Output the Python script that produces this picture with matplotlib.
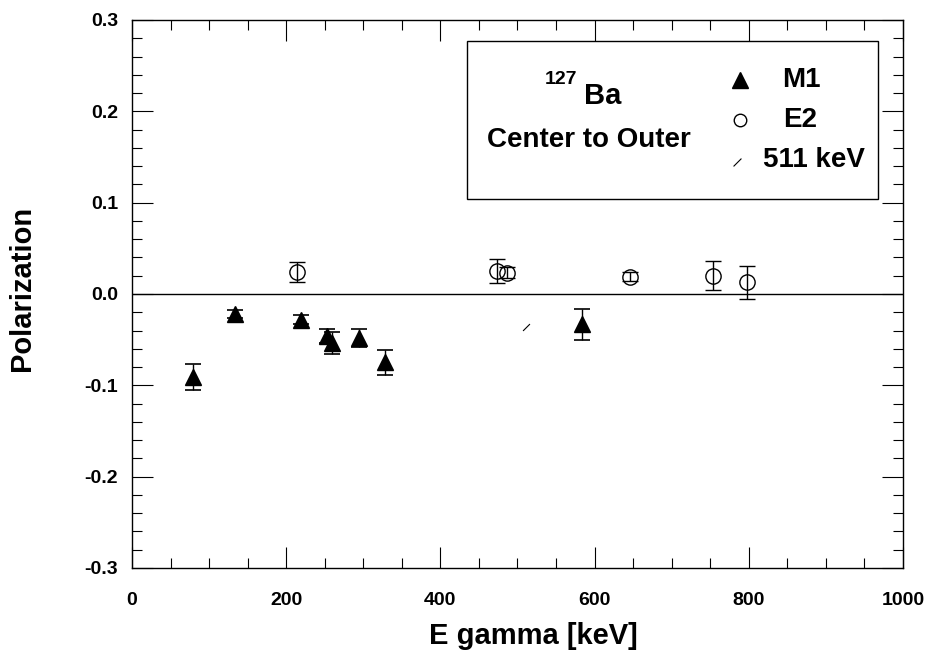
#!/usr/bin/env python3
"""Linear polarization of 127Ba gamma lines, center-to-outer detector ratio."""

import matplotlib.pyplot as plt
from matplotlib.ticker import MultipleLocator

plt.rcParams["font.family"] = ["Liberation Sans", "DejaVu Sans"]
plt.rcParams["font.weight"] = "bold"

# M1 transitions
m1_energy = [79, 133, 219, 253, 260, 295, 328, 584]
m1_pol = [-0.091, -0.022, -0.028, -0.046, -0.054, -0.048, -0.075, -0.033]
m1_err = [0.014, 0.004, 0.005, 0.008, 0.012, 0.010, 0.014, 0.017]

# E2 transitions
e2_energy = [214, 474, 486, 646, 753, 798]
e2_pol = [0.024, 0.025, 0.023, 0.019, 0.020, 0.013]
e2_err = [0.011, 0.013, 0.006, 0.005, 0.016, 0.018]

# annihilation line
ann_energy = [511]
ann_pol = [-0.036]

fig = plt.figure(figsize=(9.27, 6.57), dpi=100)
ax = fig.add_axes([0.1424, 0.1355, 0.8317, 0.8341])

ax.axhline(0.0, color="black", linewidth=1.0, zorder=1)

ax.errorbar(m1_energy, m1_pol, yerr=m1_err, fmt="^", color="black",
            markersize=12, capsize=5.5, elinewidth=1.0, capthick=1.2)
ax.errorbar(e2_energy, e2_pol, yerr=e2_err, fmt="o", color="black",
            markerfacecolor="none", markeredgewidth=1.0, markersize=11,
            capsize=5.5, elinewidth=1.0, capthick=1.2)
ax.plot(ann_energy, ann_pol, linestyle="none", marker=(2, 0, -45),
        color="black", markersize=7, markeredgewidth=0.8)

ax.set_xlim(0, 1000)
ax.set_ylim(-0.3, 0.3)
ax.xaxis.set_major_locator(MultipleLocator(200))
ax.xaxis.set_minor_locator(MultipleLocator(50))
ax.yaxis.set_major_locator(MultipleLocator(0.1))
ax.yaxis.set_minor_locator(MultipleLocator(0.02))
ax.yaxis.set_major_formatter(plt.FormatStrFormatter("%.1f"))
ax.tick_params(which="both", direction="in", top=True, right=True,
               labelsize=14, width=0.8)
ax.tick_params(which="major", length=15)
ax.tick_params(which="minor", length=7)
ax.tick_params(axis="x", which="major", pad=17)
ax.tick_params(axis="y", which="major", pad=10)
for lab in ax.get_xticklabels() + ax.get_yticklabels():
    lab.set_fontweight("bold")
for side in ax.spines.values():
    side.set_linewidth(1.0)

ax.set_xlabel("E gamma [keV]", fontsize=21, fontweight="bold", va="center")
ax.xaxis.set_label_coords(0.520, -0.124)
ax.set_ylabel("Polarization", fontsize=21, fontweight="bold", va="center")
ax.yaxis.set_label_coords(-0.1427, 0.51)

# legend panel drawn as a framed box in axes coordinates
box = plt.Rectangle((0.434, 0.674), 0.533, 0.287, transform=ax.transAxes,
                    facecolor="white", edgecolor="black", linewidth=1.0,
                    zorder=3)
ax.add_patch(box)
ax.text(0.556, 0.8905, "127", transform=ax.transAxes, fontsize=14,
        fontweight="bold", ha="center", va="center", zorder=4)
ax.text(0.611, 0.861, "Ba", transform=ax.transAxes, fontsize=21,
        fontweight="bold", ha="center", va="center", zorder=4)
ax.text(0.593, 0.781, "Center to Outer", transform=ax.transAxes,
        fontsize=20, fontweight="bold", ha="center", va="center", zorder=4)

ax.plot([0.789], [0.8905], transform=ax.transAxes, marker="^", color="black",
        markersize=12, linestyle="none", zorder=4)
ax.plot([0.789], [0.8175], transform=ax.transAxes, marker="o",
        markerfacecolor="none", color="black", markersize=9,
        markeredgewidth=1.0, linestyle="none", zorder=4)
ax.plot([0.785], [0.741], transform=ax.transAxes, marker=(2, 0, -45),
        color="black", markersize=8, markeredgewidth=0.8, linestyle="none",
        zorder=4)
ax.text(0.868, 0.8905, "M1", transform=ax.transAxes, fontsize=20,
        fontweight="bold", ha="center", va="center", zorder=4)
ax.text(0.866, 0.8175, "E2", transform=ax.transAxes, fontsize=20,
        fontweight="bold", ha="center", va="center", zorder=4)
ax.text(0.885, 0.745, "511 keV", transform=ax.transAxes, fontsize=20,
        fontweight="bold", ha="center", va="center", zorder=4)

fig.savefig("out.png", dpi=100)
